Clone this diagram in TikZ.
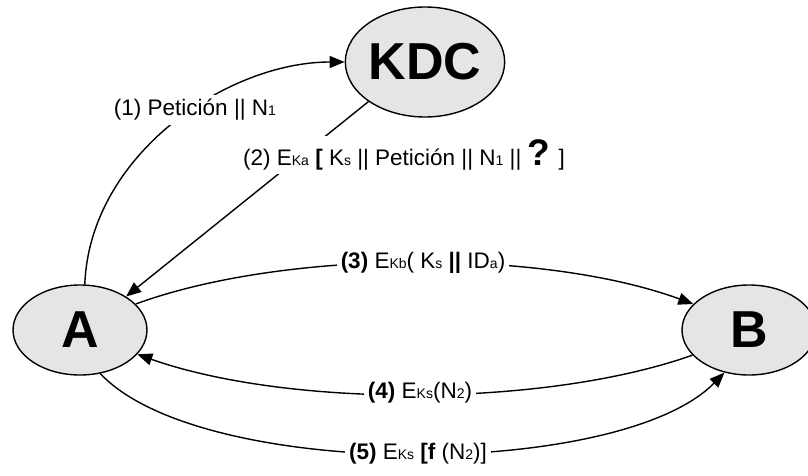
\documentclass[tikz,border=0pt]{standalone}
\usepackage{fontspec}
\setmainfont{Liberation Sans}
\usetikzlibrary{arrows.meta,shapes.geometric}
\newcommand\lsub[1]{{\fontsize{14}{14}\selectfont #1}}
\begin{document}
\begin{tikzpicture}[x=1pt,y=1pt,
  ent/.style={ellipse,draw=black,line width=1.4pt,fill=black!10,inner sep=0pt,
    minimum width=134pt,minimum height=90pt,font=\bfseries\fontsize{52}{52}\selectfont},
  msg/.style={fill=white,inner sep=4pt,font=\fontsize{22.5}{26}\selectfont},
  arr/.style={line width=1.4pt,-{Triangle[length=15pt,width=12pt]}}]
\useasboundingbox (0,0) rectangle (808,475);
\node[ent,minimum width=156pt,minimum height=110pt] (KDC) at (425,413) {KDC};
\node[ent] (A) at (80,145) {A};
\node[ent] (B) at (749,145) {B};
% connectors
\draw[arr] (A.84) .. controls +(5,130) and +(-117,0) .. (KDC.west);
\draw[arr] (KDC.215) -- (A.36);
\draw[arr] (A.25) .. controls +(150,55) and +(-150,55) .. (B.155);
\draw[arr] (B.204) .. controls +(-150,-53) and +(150,-53) .. (A.-23);
\draw[arr] (A.-65) .. controls +(100,-107) and +(-105,-107) .. (B.240);
% labels
\node[msg] (l1) at (195,365) {(1) Petición || N\lsub{1}};
\node[msg] (l2) at (404,320) {(2) E\lsub{Ka} \textbf{[} K\lsub{s} || Petición || N\lsub{1} || {\bfseries\fontsize{37}{37}\selectfont ?} ]};
\node[msg] (l3) at (423,212) {\textbf{(3)} E\lsub{Kb}( K\lsub{s} \textbf{||} ID\lsub{a})};
\node[msg] (l4) at (420,82) {\textbf{(4)} E\lsub{Ks}(N\lsub{2})};
\node[msg] (l5) at (418,21) {\textbf{(5)} E\lsub{Ks} \textbf{[f} (N\lsub{2})]};
\end{tikzpicture}
\end{document}
